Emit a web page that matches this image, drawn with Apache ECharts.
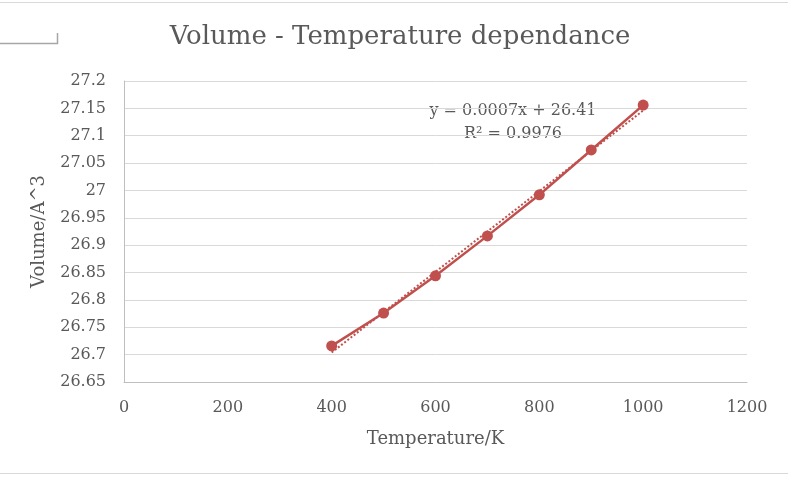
<!DOCTYPE html>
<html>
<head>
<meta charset="utf-8">
<script src="https://cdn.jsdelivr.net/npm/echarts@6/dist/echarts.min.js"></script>
<style>
  html, body { margin: 0; padding: 0; background: #fff; }
  #chart { width: 788px; height: 478px; }
</style>
</head>
<body>
<div id="chart"></div>
<script>
// values
var temperatures = [400, 500, 600, 700, 800, 900, 1000];
var volumes = [26.716, 26.776, 26.844, 26.917, 26.992, 27.074, 27.156];
var equationLines = ['y = 0.0007x + 26.41', 'R² = 0.9976'];

// linear trendline (least squares) from the points
var n = temperatures.length;
var mx = 0, my = 0;
for (var i = 0; i < n; i++) { mx += temperatures[i]; my += volumes[i]; }
mx /= n; my /= n;
var sxy = 0, sxx = 0;
for (var i = 0; i < n; i++) {
    sxy += (temperatures[i] - mx) * (volumes[i] - my);
    sxx += (temperatures[i] - mx) * (temperatures[i] - mx);
}
var slope = sxy / sxx;
var intercept = my - slope * mx;
var xFirst = temperatures[0], xLast = temperatures[n - 1];
var trend = [[xFirst, intercept + slope * xFirst], [xLast, intercept + slope * xLast]];

var points = [];
for (var i = 0; i < n; i++) points.push([temperatures[i], volumes[i]]);

var font = 'DejaVu Serif';
var red = '#C0504D';
var textGray = '#595959';

var myChart = echarts.init(document.getElementById('chart'));
myChart.setOption({
    animation: false,
    title: {
        text: 'Volume - Temperature dependance',
        left: 395,
        top: 19,
        textAlign: 'center',
        textStyle: { fontFamily: font, fontSize: 26, fontWeight: 'normal', color: textGray }
    },
    grid: { left: 124, right: 41, top: 81, bottom: 96 },
    xAxis: {
        type: 'value',
        min: 0,
        max: 1200,
        interval: 200,
        name: 'Temperature/K',
        nameLocation: 'middle',
        nameGap: 48,
        nameTextStyle: { fontFamily: font, fontSize: 18, color: textGray },
        axisLine: { show: true, lineStyle: { color: '#bfbfbf', width: 1 } },
        axisTick: { show: false },
        splitLine: { show: false },
        axisLabel: {
            fontFamily: font, fontSize: 16, color: textGray, margin: 18,
            formatter: function (v) { return String(v); }
        }
    },
    yAxis: {
        type: 'value',
        min: 26.65,
        max: 27.2,
        interval: 0.05,
        name: 'Volume/A^3',
        nameLocation: 'middle',
        nameGap: 76,
        nameTextStyle: { fontFamily: font, fontSize: 18, color: textGray },
        axisLine: { show: true, lineStyle: { color: '#bfbfbf', width: 1 } },
        axisTick: { show: false },
        splitLine: { show: true, lineStyle: { color: '#d9d9d9', width: 1 } },
        axisLabel: {
            fontFamily: font, fontSize: 16, color: textGray, margin: 18,
            formatter: function (v) { return String(+v.toFixed(2)); }
        }
    },
    graphic: [
        { type: 'line', shape: { x1: 0, y1: 2.5, x2: 788, y2: 2.5 }, style: { stroke: '#d9d9d9', lineWidth: 1 } },
        { type: 'line', shape: { x1: 0, y1: 473.5, x2: 788, y2: 473.5 }, style: { stroke: '#d9d9d9', lineWidth: 1 } },
        { type: 'polyline', shape: { points: [[0, 43.5], [57.5, 43.5], [57.5, 33]] }, style: { stroke: '#a6a6a6', lineWidth: 1.5, fill: null } },
        {
            type: 'text', x: 513, y: 99, style: {
                text: equationLines.join('\n'), textAlign: 'center',
                font: '16px "' + font + '"', fill: textGray, lineHeight: 23
            }
        }
    ],
    series: [
        {
            type: 'line',
            data: trend,
            symbol: 'none',
            lineStyle: { color: red, width: 2, type: 'dotted' },
            z: 2
        },
        {
            type: 'line',
            data: points,
            symbol: 'circle',
            symbolSize: 11,
            itemStyle: { color: red },
            lineStyle: { color: red, width: 2.5 },
            z: 3
        }
    ]
});
</script>
</body>
</html>
